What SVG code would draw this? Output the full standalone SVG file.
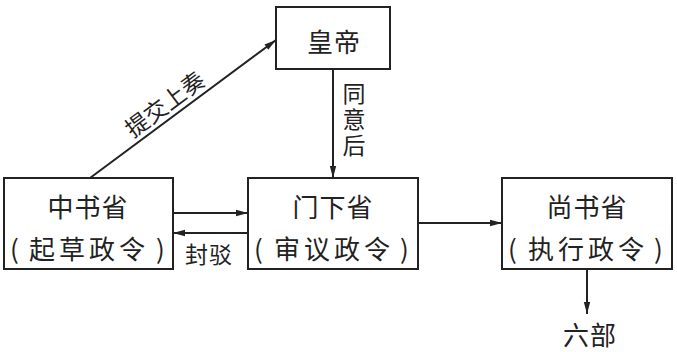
<svg xmlns="http://www.w3.org/2000/svg" width="677" height="352" viewBox="0 0 677 352">
<style>
.box{fill:#fff;stroke:#222;stroke-width:2}
.t{font-family:"Noto Sans CJK SC","Noto Sans CJK JP",sans-serif;font-size:26px;letter-spacing:1px;fill:#222;text-anchor:middle;dominant-baseline:central}
.l{font-family:"Noto Sans CJK SC","Noto Sans CJK JP",sans-serif;font-size:23px;fill:#222;text-anchor:middle;dominant-baseline:central}
.v{writing-mode:vertical-rl;letter-spacing:3px}
.c{stroke:#222;stroke-width:2;fill:none;marker-end:url(#ah)}
</style>
<defs>
<marker id="ah" viewBox="0 0 12 8" refX="12" refY="4" markerWidth="12" markerHeight="8" markerUnits="userSpaceOnUse" orient="auto">
<path d="M0,0.8 L12,4 L0,7.2 Z" fill="#222"/>
</marker>
</defs>
<rect width="677" height="352" fill="#fff"/>
<g id="connectors">
<line class="c" x1="90" y1="178" x2="276" y2="40"/>
<line class="c" x1="333" y1="69" x2="333" y2="178"/>
<line class="c" x1="173" y1="213" x2="248" y2="213"/>
<line class="c" x1="248" y1="233" x2="173" y2="233"/>
<line class="c" x1="418" y1="223" x2="502" y2="223"/>
<line class="c" x1="587" y1="269" x2="587" y2="314"/>
<text class="l" transform="translate(164,103) rotate(-36.6)">提交上奏</text>
<text class="l v" x="354" y="121">同意后</text>
<text class="l" x="209" y="253" style="letter-spacing:1px">封驳</text>
</g>
<g id="huangdi">
<rect class="box" x="276" y="7" width="114" height="62"/>
<text class="t" x="334" y="40">皇帝</text>
</g>
<g id="zhongshu">
<rect class="box" x="4" y="178" width="169" height="91"/>
<text class="t" x="88" y="205">中书省</text>
<text class="t" y="247"><tspan x="15">(</tspan><tspan x="89" style="letter-spacing:4px">起草政令</tspan><tspan x="161">)</tspan></text>
</g>
<g id="menxia">
<rect class="box" x="248" y="178" width="170" height="91"/>
<text class="t" x="333" y="205">门下省</text>
<text class="t" y="247"><tspan x="259">(</tspan><tspan x="334" style="letter-spacing:4px">审议政令</tspan><tspan x="405">)</tspan></text>
</g>
<g id="shangshu">
<rect class="box" x="502" y="178" width="170" height="91"/>
<text class="t" x="587" y="205">尚书省</text>
<text class="t" y="247"><tspan x="513">(</tspan><tspan x="588" style="letter-spacing:4px">执行政令</tspan><tspan x="659">)</tspan></text>
</g>
<g id="liubu">
<text class="t" x="590" y="333">六部</text>
</g>
</svg>
